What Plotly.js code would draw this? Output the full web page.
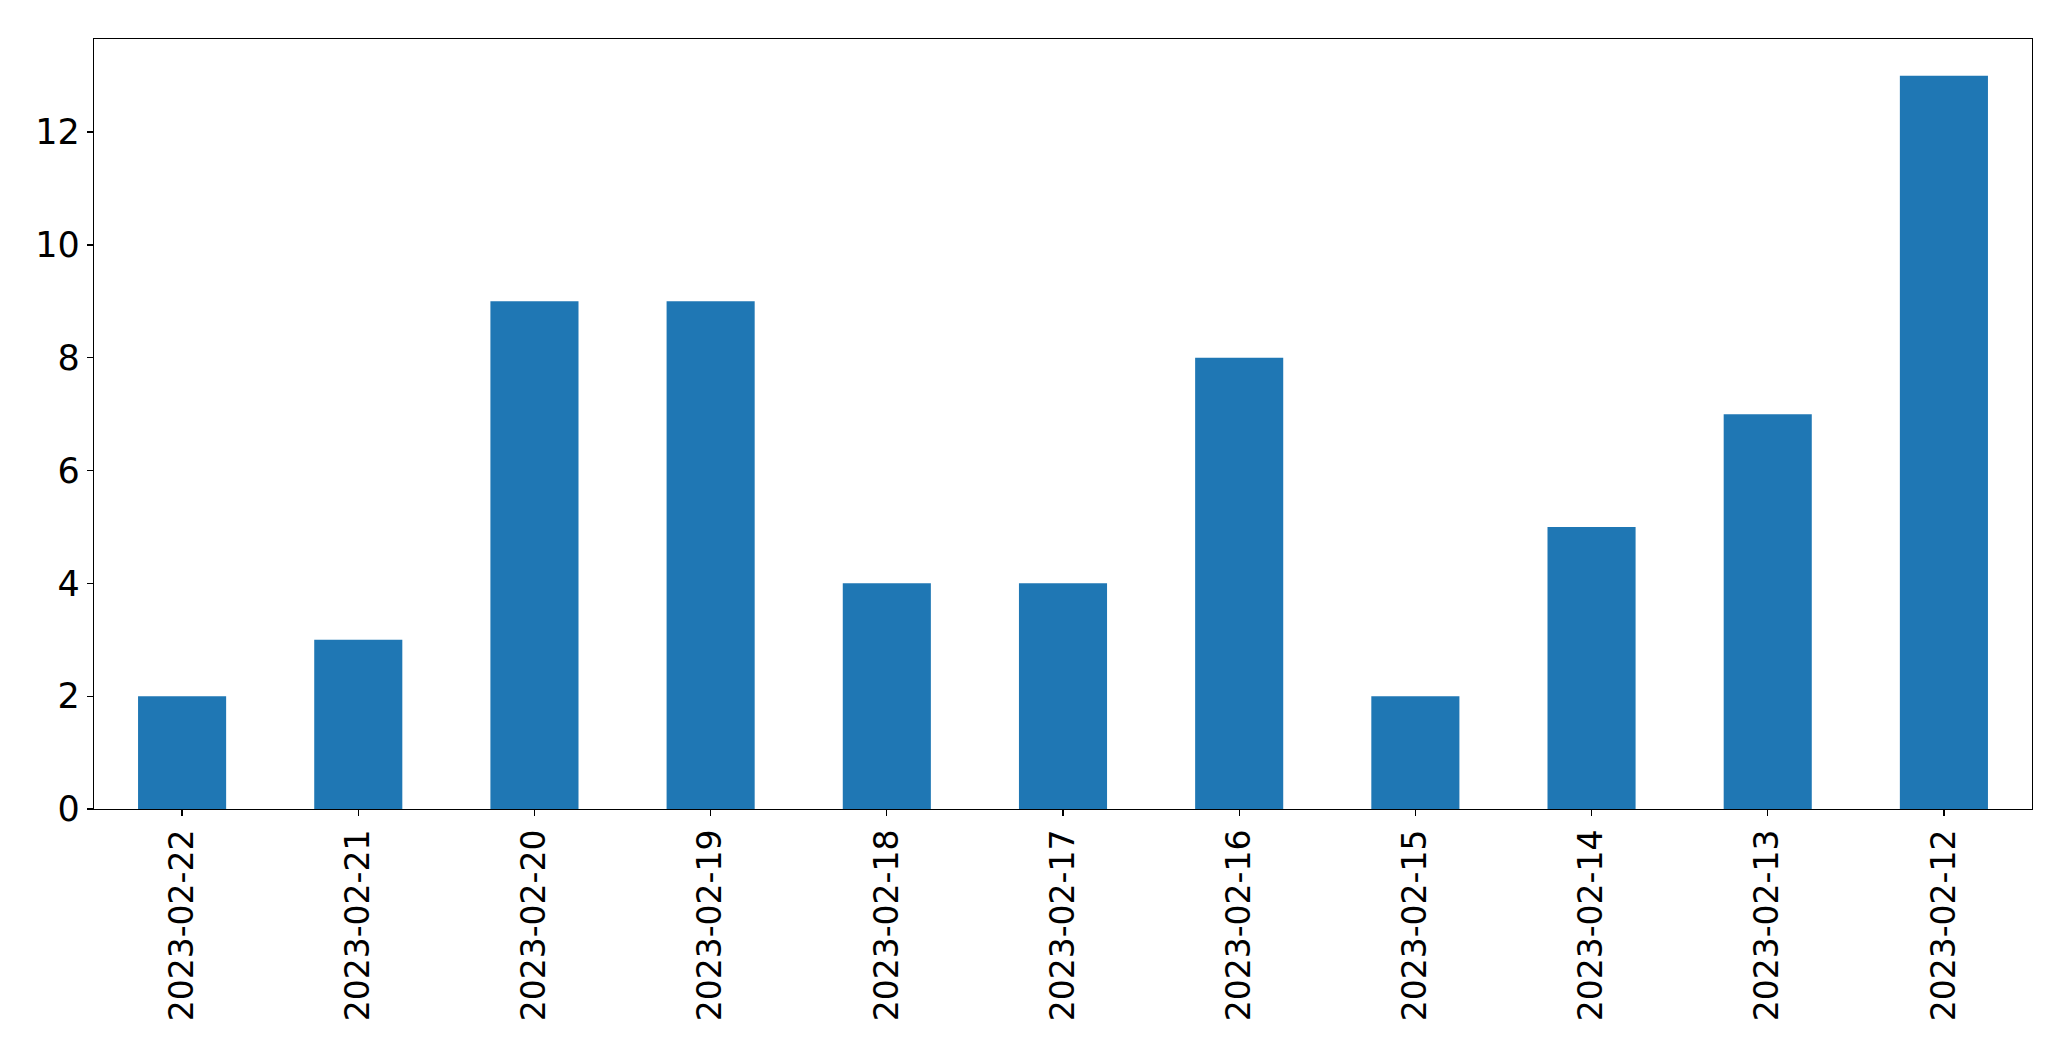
<!DOCTYPE html>
<html>
<head>
<meta charset="utf-8">
<script src="https://cdn.plot.ly/plotly-3.0.1.min.js"></script>
<style>html,body{margin:0;padding:0;background:#fff;}#chart{width:2071px;height:1061px;}</style>
</head>
<body>
<div id="chart"></div>
<script>
const categories = ["2023-02-22","2023-02-21","2023-02-20","2023-02-19","2023-02-18","2023-02-17","2023-02-16","2023-02-15","2023-02-14","2023-02-13","2023-02-12"];
const values = [2,3,9,9,4,4,8,2,5,7,13];
const yTicks = [0,2,4,6,8,10,12];

const trace = {
  type: 'bar',
  x: categories,
  y: values,
  width: 0.5,
  marker: {color: '#1f77b4', line: {width: 0}},
  hoverinfo: 'x+y'
};

const layout = {
  width: 2071,
  height: 1061,
  margin: {l: 94, r: 39, t: 39, b: 252, pad: 0},
  paper_bgcolor: '#ffffff',
  plot_bgcolor: '#ffffff',
  font: {family: 'DejaVu Sans, sans-serif', size: 33, color: '#000000'},
  showlegend: false,
  bargap: 0.5,
  xaxis: {
    type: 'category',
    range: [-0.5, 10.5],
    tickangle: -90,
    ticks: 'outside',
    ticklen: 6,
    tickwidth: 1.3,
    tickcolor: '#000',
    showline: true,
    linecolor: '#000',
    linewidth: 1.3,
    mirror: true,
    showgrid: false,
    zeroline: false,
    tickfont: {size: 33, family: 'DejaVu Sans, sans-serif'}
  },
  yaxis: {
    range: [0, 13.65],
    tickmode: 'array',
    tickvals: yTicks,
    ticktext: yTicks.map(String),
    ticks: 'outside',
    ticklen: 6,
    tickwidth: 1.3,
    tickcolor: '#000',
    showline: true,
    linecolor: '#000',
    linewidth: 1.3,
    mirror: true,
    showgrid: false,
    zeroline: false,
    tickfont: {size: 35, family: 'DejaVu Sans, sans-serif'}
  }
};

Plotly.newPlot('chart', [trace], layout, {displayModeBar: false, staticPlot: true});
</script>
</body>
</html>
